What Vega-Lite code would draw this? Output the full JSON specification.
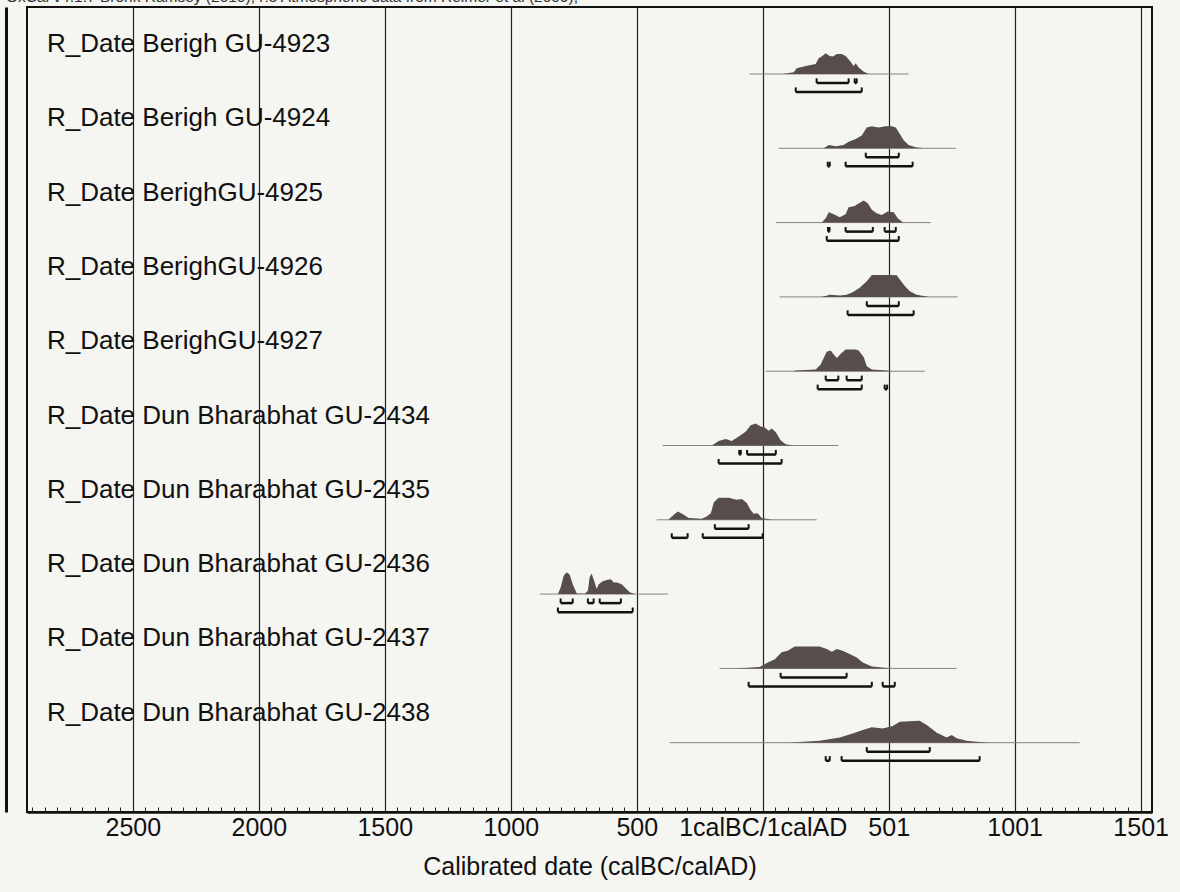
{
  "$schema": "https://vega.github.io/schema/vega-lite/v6.json",
  "autosize": "none",
  "width": 1125,
  "height": 805,
  "padding": {"left": 27, "top": 7, "right": 28, "bottom": 80},
  "background": "#f5f5f1",
  "title": {"text": "OxCal v4.1.7 Bronk Ramsey (2010); r:5 Atmospheric data from Reimer et al (2009);", "anchor": "start", "fontSize": 15.5, "fontWeight": "normal", "font": "Liberation Sans", "color": "#333", "offset": 2},
  "config": {"view": {"stroke": "#111", "strokeWidth": 2}, "font": "Liberation Sans"},
  "data": {"values": [
    {"sample": "R_Date Berigh GU-4923", "kind": "line", "from": -52, "to": 579},
    {"sample": "R_Date Berigh GU-4924", "kind": "line", "from": 63, "to": 766},
    {"sample": "R_Date BerighGU-4925", "kind": "line", "from": 52, "to": 667},
    {"sample": "R_Date BerighGU-4926", "kind": "line", "from": 67, "to": 774},
    {"sample": "R_Date BerighGU-4927", "kind": "line", "from": 12, "to": 643},
    {"sample": "R_Date Dun Bharabhat GU-2434", "kind": "line", "from": -397, "to": 300},
    {"sample": "R_Date Dun Bharabhat GU-2435", "kind": "line", "from": -421, "to": 214},
    {"sample": "R_Date Dun Bharabhat GU-2436", "kind": "line", "from": -885, "to": -377},
    {"sample": "R_Date Dun Bharabhat GU-2437", "kind": "line", "from": -171, "to": 770},
    {"sample": "R_Date Dun Bharabhat GU-2438", "kind": "line", "from": -369, "to": 1258},

    {"sample": "R_Date Berigh GU-4923", "kind": "r68", "from": 214, "to": 341},
    {"sample": "R_Date Berigh GU-4923", "kind": "r68", "from": 365, "to": 373},
    {"sample": "R_Date Berigh GU-4923", "kind": "r95", "from": 131, "to": 393},
    {"sample": "R_Date Berigh GU-4924", "kind": "r68", "from": 409, "to": 540},
    {"sample": "R_Date Berigh GU-4924", "kind": "r95", "from": 258, "to": 266},
    {"sample": "R_Date Berigh GU-4924", "kind": "r95", "from": 329, "to": 595},
    {"sample": "R_Date BerighGU-4925", "kind": "r68", "from": 259, "to": 265},
    {"sample": "R_Date BerighGU-4925", "kind": "r68", "from": 329, "to": 437},
    {"sample": "R_Date BerighGU-4925", "kind": "r68", "from": 484, "to": 528},
    {"sample": "R_Date BerighGU-4925", "kind": "r95", "from": 254, "to": 540},
    {"sample": "R_Date BerighGU-4926", "kind": "r68", "from": 413, "to": 540},
    {"sample": "R_Date BerighGU-4926", "kind": "r95", "from": 337, "to": 599},
    {"sample": "R_Date BerighGU-4927", "kind": "r68", "from": 250, "to": 300},
    {"sample": "R_Date BerighGU-4927", "kind": "r68", "from": 333, "to": 393},
    {"sample": "R_Date BerighGU-4927", "kind": "r95", "from": 218, "to": 393},
    {"sample": "R_Date BerighGU-4927", "kind": "r95", "from": 484, "to": 494},
    {"sample": "R_Date Dun Bharabhat GU-2434", "kind": "r68", "from": -93, "to": -87},
    {"sample": "R_Date Dun Bharabhat GU-2434", "kind": "r68", "from": -62, "to": 52},
    {"sample": "R_Date Dun Bharabhat GU-2434", "kind": "r95", "from": -175, "to": 75},
    {"sample": "R_Date Dun Bharabhat GU-2435", "kind": "r68", "from": -190, "to": -56},
    {"sample": "R_Date Dun Bharabhat GU-2435", "kind": "r95", "from": -361, "to": -298},
    {"sample": "R_Date Dun Bharabhat GU-2435", "kind": "r95", "from": -238, "to": 0},
    {"sample": "R_Date Dun Bharabhat GU-2436", "kind": "r68", "from": -802, "to": -754},
    {"sample": "R_Date Dun Bharabhat GU-2436", "kind": "r68", "from": -694, "to": -671},
    {"sample": "R_Date Dun Bharabhat GU-2436", "kind": "r68", "from": -647, "to": -563},
    {"sample": "R_Date Dun Bharabhat GU-2436", "kind": "r95", "from": -813, "to": -516},
    {"sample": "R_Date Dun Bharabhat GU-2437", "kind": "r68", "from": 71, "to": 333},
    {"sample": "R_Date Dun Bharabhat GU-2437", "kind": "r95", "from": -56, "to": 433},
    {"sample": "R_Date Dun Bharabhat GU-2437", "kind": "r95", "from": 476, "to": 524},
    {"sample": "R_Date Dun Bharabhat GU-2438", "kind": "r68", "from": 413, "to": 663},
    {"sample": "R_Date Dun Bharabhat GU-2438", "kind": "r95", "from": 250, "to": 266},
    {"sample": "R_Date Dun Bharabhat GU-2438", "kind": "r95", "from": 313, "to": 861},

    {"sample": "R_Date Berigh GU-4923", "kind": "d", "year": 80, "p": 0},
    {"sample": "R_Date Berigh GU-4923", "kind": "d", "year": 123, "p": 0.08},
    {"sample": "R_Date Berigh GU-4923", "kind": "d", "year": 135, "p": 0.26},
    {"sample": "R_Date Berigh GU-4923", "kind": "d", "year": 171, "p": 0.36},
    {"sample": "R_Date Berigh GU-4923", "kind": "d", "year": 210, "p": 0.45},
    {"sample": "R_Date Berigh GU-4923", "kind": "d", "year": 222, "p": 0.71},
    {"sample": "R_Date Berigh GU-4923", "kind": "d", "year": 234, "p": 0.79},
    {"sample": "R_Date Berigh GU-4923", "kind": "d", "year": 250, "p": 0.94},
    {"sample": "R_Date Berigh GU-4923", "kind": "d", "year": 266, "p": 0.82},
    {"sample": "R_Date Berigh GU-4923", "kind": "d", "year": 278, "p": 0.79},
    {"sample": "R_Date Berigh GU-4923", "kind": "d", "year": 294, "p": 0.91},
    {"sample": "R_Date Berigh GU-4923", "kind": "d", "year": 313, "p": 0.91},
    {"sample": "R_Date Berigh GU-4923", "kind": "d", "year": 329, "p": 0.82},
    {"sample": "R_Date Berigh GU-4923", "kind": "d", "year": 349, "p": 0.56},
    {"sample": "R_Date Berigh GU-4923", "kind": "d", "year": 361, "p": 0.36},
    {"sample": "R_Date Berigh GU-4923", "kind": "d", "year": 369, "p": 0.49},
    {"sample": "R_Date Berigh GU-4923", "kind": "d", "year": 381, "p": 0.3},
    {"sample": "R_Date Berigh GU-4923", "kind": "d", "year": 401, "p": 0.1},
    {"sample": "R_Date Berigh GU-4923", "kind": "d", "year": 421, "p": 0},

    {"sample": "R_Date Berigh GU-4924", "kind": "d", "year": 242, "p": 0},
    {"sample": "R_Date Berigh GU-4924", "kind": "d", "year": 262, "p": 0.15},
    {"sample": "R_Date Berigh GU-4924", "kind": "d", "year": 290, "p": 0.09},
    {"sample": "R_Date Berigh GU-4924", "kind": "d", "year": 321, "p": 0.15},
    {"sample": "R_Date Berigh GU-4924", "kind": "d", "year": 341, "p": 0.3},
    {"sample": "R_Date Berigh GU-4924", "kind": "d", "year": 369, "p": 0.42},
    {"sample": "R_Date Berigh GU-4924", "kind": "d", "year": 393, "p": 0.58},
    {"sample": "R_Date Berigh GU-4924", "kind": "d", "year": 413, "p": 0.95},
    {"sample": "R_Date Berigh GU-4924", "kind": "d", "year": 433, "p": 1},
    {"sample": "R_Date Berigh GU-4924", "kind": "d", "year": 460, "p": 0.95},
    {"sample": "R_Date Berigh GU-4924", "kind": "d", "year": 488, "p": 1},
    {"sample": "R_Date Berigh GU-4924", "kind": "d", "year": 512, "p": 1},
    {"sample": "R_Date Berigh GU-4924", "kind": "d", "year": 528, "p": 0.95},
    {"sample": "R_Date Berigh GU-4924", "kind": "d", "year": 540, "p": 0.73},
    {"sample": "R_Date Berigh GU-4924", "kind": "d", "year": 560, "p": 0.35},
    {"sample": "R_Date Berigh GU-4924", "kind": "d", "year": 579, "p": 0.15},
    {"sample": "R_Date Berigh GU-4924", "kind": "d", "year": 607, "p": 0.05},
    {"sample": "R_Date Berigh GU-4924", "kind": "d", "year": 639, "p": 0},

    {"sample": "R_Date BerighGU-4925", "kind": "d", "year": 234, "p": 0},
    {"sample": "R_Date BerighGU-4925", "kind": "d", "year": 250, "p": 0.2},
    {"sample": "R_Date BerighGU-4925", "kind": "d", "year": 262, "p": 0.47},
    {"sample": "R_Date BerighGU-4925", "kind": "d", "year": 278, "p": 0.4},
    {"sample": "R_Date BerighGU-4925", "kind": "d", "year": 306, "p": 0.24},
    {"sample": "R_Date BerighGU-4925", "kind": "d", "year": 329, "p": 0.38},
    {"sample": "R_Date BerighGU-4925", "kind": "d", "year": 341, "p": 0.7},
    {"sample": "R_Date BerighGU-4925", "kind": "d", "year": 365, "p": 0.76},
    {"sample": "R_Date BerighGU-4925", "kind": "d", "year": 377, "p": 0.85},
    {"sample": "R_Date BerighGU-4925", "kind": "d", "year": 401, "p": 1},
    {"sample": "R_Date BerighGU-4925", "kind": "d", "year": 417, "p": 0.88},
    {"sample": "R_Date BerighGU-4925", "kind": "d", "year": 433, "p": 0.58},
    {"sample": "R_Date BerighGU-4925", "kind": "d", "year": 452, "p": 0.42},
    {"sample": "R_Date BerighGU-4925", "kind": "d", "year": 472, "p": 0.35},
    {"sample": "R_Date BerighGU-4925", "kind": "d", "year": 484, "p": 0.42},
    {"sample": "R_Date BerighGU-4925", "kind": "d", "year": 496, "p": 0.5},
    {"sample": "R_Date BerighGU-4925", "kind": "d", "year": 520, "p": 0.47},
    {"sample": "R_Date BerighGU-4925", "kind": "d", "year": 536, "p": 0.2},
    {"sample": "R_Date BerighGU-4925", "kind": "d", "year": 556, "p": 0.02},
    {"sample": "R_Date BerighGU-4925", "kind": "d", "year": 570, "p": 0},

    {"sample": "R_Date BerighGU-4926", "kind": "d", "year": 230, "p": 0},
    {"sample": "R_Date BerighGU-4926", "kind": "d", "year": 246, "p": 0.03},
    {"sample": "R_Date BerighGU-4926", "kind": "d", "year": 266, "p": 0.1},
    {"sample": "R_Date BerighGU-4926", "kind": "d", "year": 306, "p": 0.06},
    {"sample": "R_Date BerighGU-4926", "kind": "d", "year": 333, "p": 0.1},
    {"sample": "R_Date BerighGU-4926", "kind": "d", "year": 357, "p": 0.21},
    {"sample": "R_Date BerighGU-4926", "kind": "d", "year": 385, "p": 0.41},
    {"sample": "R_Date BerighGU-4926", "kind": "d", "year": 413, "p": 0.71},
    {"sample": "R_Date BerighGU-4926", "kind": "d", "year": 433, "p": 1},
    {"sample": "R_Date BerighGU-4926", "kind": "d", "year": 457, "p": 1},
    {"sample": "R_Date BerighGU-4926", "kind": "d", "year": 504, "p": 1},
    {"sample": "R_Date BerighGU-4926", "kind": "d", "year": 532, "p": 0.98},
    {"sample": "R_Date BerighGU-4926", "kind": "d", "year": 544, "p": 0.79},
    {"sample": "R_Date BerighGU-4926", "kind": "d", "year": 564, "p": 0.49},
    {"sample": "R_Date BerighGU-4926", "kind": "d", "year": 584, "p": 0.26},
    {"sample": "R_Date BerighGU-4926", "kind": "d", "year": 611, "p": 0.1},
    {"sample": "R_Date BerighGU-4926", "kind": "d", "year": 643, "p": 0.03},
    {"sample": "R_Date BerighGU-4926", "kind": "d", "year": 660, "p": 0},

    {"sample": "R_Date BerighGU-4927", "kind": "d", "year": 120, "p": 0},
    {"sample": "R_Date BerighGU-4927", "kind": "d", "year": 131, "p": 0.03},
    {"sample": "R_Date BerighGU-4927", "kind": "d", "year": 210, "p": 0.08},
    {"sample": "R_Date BerighGU-4927", "kind": "d", "year": 230, "p": 0.3},
    {"sample": "R_Date BerighGU-4927", "kind": "d", "year": 242, "p": 0.6},
    {"sample": "R_Date BerighGU-4927", "kind": "d", "year": 254, "p": 0.88},
    {"sample": "R_Date BerighGU-4927", "kind": "d", "year": 270, "p": 0.94},
    {"sample": "R_Date BerighGU-4927", "kind": "d", "year": 282, "p": 0.76},
    {"sample": "R_Date BerighGU-4927", "kind": "d", "year": 294, "p": 0.6},
    {"sample": "R_Date BerighGU-4927", "kind": "d", "year": 313, "p": 0.83},
    {"sample": "R_Date BerighGU-4927", "kind": "d", "year": 329, "p": 0.99},
    {"sample": "R_Date BerighGU-4927", "kind": "d", "year": 369, "p": 0.99},
    {"sample": "R_Date BerighGU-4927", "kind": "d", "year": 381, "p": 0.94},
    {"sample": "R_Date BerighGU-4927", "kind": "d", "year": 401, "p": 0.64},
    {"sample": "R_Date BerighGU-4927", "kind": "d", "year": 413, "p": 0.23},
    {"sample": "R_Date BerighGU-4927", "kind": "d", "year": 433, "p": 0.08},
    {"sample": "R_Date BerighGU-4927", "kind": "d", "year": 492, "p": 0.03},
    {"sample": "R_Date BerighGU-4927", "kind": "d", "year": 520, "p": 0},

    {"sample": "R_Date Dun Bharabhat GU-2434", "kind": "d", "year": -202, "p": 0},
    {"sample": "R_Date Dun Bharabhat GU-2434", "kind": "d", "year": -175, "p": 0.21},
    {"sample": "R_Date Dun Bharabhat GU-2434", "kind": "d", "year": -147, "p": 0.3},
    {"sample": "R_Date Dun Bharabhat GU-2434", "kind": "d", "year": -123, "p": 0.21},
    {"sample": "R_Date Dun Bharabhat GU-2434", "kind": "d", "year": -95, "p": 0.41},
    {"sample": "R_Date Dun Bharabhat GU-2434", "kind": "d", "year": -67, "p": 0.64},
    {"sample": "R_Date Dun Bharabhat GU-2434", "kind": "d", "year": -48, "p": 0.92},
    {"sample": "R_Date Dun Bharabhat GU-2434", "kind": "d", "year": -28, "p": 1},
    {"sample": "R_Date Dun Bharabhat GU-2434", "kind": "d", "year": -8, "p": 0.86},
    {"sample": "R_Date Dun Bharabhat GU-2434", "kind": "d", "year": 8, "p": 0.82},
    {"sample": "R_Date Dun Bharabhat GU-2434", "kind": "d", "year": 24, "p": 0.67},
    {"sample": "R_Date Dun Bharabhat GU-2434", "kind": "d", "year": 36, "p": 0.77},
    {"sample": "R_Date Dun Bharabhat GU-2434", "kind": "d", "year": 52, "p": 0.6},
    {"sample": "R_Date Dun Bharabhat GU-2434", "kind": "d", "year": 71, "p": 0.24},
    {"sample": "R_Date Dun Bharabhat GU-2434", "kind": "d", "year": 91, "p": 0.06},
    {"sample": "R_Date Dun Bharabhat GU-2434", "kind": "d", "year": 123, "p": 0},

    {"sample": "R_Date Dun Bharabhat GU-2435", "kind": "d", "year": -375, "p": 0},
    {"sample": "R_Date Dun Bharabhat GU-2435", "kind": "d", "year": -353, "p": 0.23},
    {"sample": "R_Date Dun Bharabhat GU-2435", "kind": "d", "year": -337, "p": 0.38},
    {"sample": "R_Date Dun Bharabhat GU-2435", "kind": "d", "year": -313, "p": 0.23},
    {"sample": "R_Date Dun Bharabhat GU-2435", "kind": "d", "year": -294, "p": 0.08},
    {"sample": "R_Date Dun Bharabhat GU-2435", "kind": "d", "year": -242, "p": 0.05},
    {"sample": "R_Date Dun Bharabhat GU-2435", "kind": "d", "year": -222, "p": 0.15},
    {"sample": "R_Date Dun Bharabhat GU-2435", "kind": "d", "year": -206, "p": 0.3},
    {"sample": "R_Date Dun Bharabhat GU-2435", "kind": "d", "year": -194, "p": 0.8},
    {"sample": "R_Date Dun Bharabhat GU-2435", "kind": "d", "year": -175, "p": 1},
    {"sample": "R_Date Dun Bharabhat GU-2435", "kind": "d", "year": -135, "p": 1},
    {"sample": "R_Date Dun Bharabhat GU-2435", "kind": "d", "year": -103, "p": 0.91},
    {"sample": "R_Date Dun Bharabhat GU-2435", "kind": "d", "year": -83, "p": 0.95},
    {"sample": "R_Date Dun Bharabhat GU-2435", "kind": "d", "year": -63, "p": 0.76},
    {"sample": "R_Date Dun Bharabhat GU-2435", "kind": "d", "year": -48, "p": 0.45},
    {"sample": "R_Date Dun Bharabhat GU-2435", "kind": "d", "year": -36, "p": 0.27},
    {"sample": "R_Date Dun Bharabhat GU-2435", "kind": "d", "year": -20, "p": 0.3},
    {"sample": "R_Date Dun Bharabhat GU-2435", "kind": "d", "year": -4, "p": 0.08},
    {"sample": "R_Date Dun Bharabhat GU-2435", "kind": "d", "year": 24, "p": 0.03},
    {"sample": "R_Date Dun Bharabhat GU-2435", "kind": "d", "year": 40, "p": 0},

    {"sample": "R_Date Dun Bharabhat GU-2436", "kind": "d", "year": -813, "p": 0},
    {"sample": "R_Date Dun Bharabhat GU-2436", "kind": "d", "year": -802, "p": 0.3},
    {"sample": "R_Date Dun Bharabhat GU-2436", "kind": "d", "year": -790, "p": 0.83},
    {"sample": "R_Date Dun Bharabhat GU-2436", "kind": "d", "year": -778, "p": 0.99},
    {"sample": "R_Date Dun Bharabhat GU-2436", "kind": "d", "year": -766, "p": 0.88},
    {"sample": "R_Date Dun Bharabhat GU-2436", "kind": "d", "year": -754, "p": 0.45},
    {"sample": "R_Date Dun Bharabhat GU-2436", "kind": "d", "year": -738, "p": 0.03},
    {"sample": "R_Date Dun Bharabhat GU-2436", "kind": "d", "year": -706, "p": 0.01},
    {"sample": "R_Date Dun Bharabhat GU-2436", "kind": "d", "year": -694, "p": 0.15},
    {"sample": "R_Date Dun Bharabhat GU-2436", "kind": "d", "year": -687, "p": 0.76},
    {"sample": "R_Date Dun Bharabhat GU-2436", "kind": "d", "year": -679, "p": 0.94},
    {"sample": "R_Date Dun Bharabhat GU-2436", "kind": "d", "year": -667, "p": 0.53},
    {"sample": "R_Date Dun Bharabhat GU-2436", "kind": "d", "year": -659, "p": 0.23},
    {"sample": "R_Date Dun Bharabhat GU-2436", "kind": "d", "year": -651, "p": 0.45},
    {"sample": "R_Date Dun Bharabhat GU-2436", "kind": "d", "year": -635, "p": 0.58},
    {"sample": "R_Date Dun Bharabhat GU-2436", "kind": "d", "year": -619, "p": 0.64},
    {"sample": "R_Date Dun Bharabhat GU-2436", "kind": "d", "year": -603, "p": 0.68},
    {"sample": "R_Date Dun Bharabhat GU-2436", "kind": "d", "year": -591, "p": 0.53},
    {"sample": "R_Date Dun Bharabhat GU-2436", "kind": "d", "year": -579, "p": 0.53},
    {"sample": "R_Date Dun Bharabhat GU-2436", "kind": "d", "year": -560, "p": 0.45},
    {"sample": "R_Date Dun Bharabhat GU-2436", "kind": "d", "year": -544, "p": 0.27},
    {"sample": "R_Date Dun Bharabhat GU-2436", "kind": "d", "year": -528, "p": 0.08},
    {"sample": "R_Date Dun Bharabhat GU-2436", "kind": "d", "year": -508, "p": 0},

    {"sample": "R_Date Dun Bharabhat GU-2437", "kind": "d", "year": -120, "p": 0},
    {"sample": "R_Date Dun Bharabhat GU-2437", "kind": "d", "year": -91, "p": 0.01},
    {"sample": "R_Date Dun Bharabhat GU-2437", "kind": "d", "year": -12, "p": 0.06},
    {"sample": "R_Date Dun Bharabhat GU-2437", "kind": "d", "year": 20, "p": 0.27},
    {"sample": "R_Date Dun Bharabhat GU-2437", "kind": "d", "year": 48, "p": 0.42},
    {"sample": "R_Date Dun Bharabhat GU-2437", "kind": "d", "year": 75, "p": 0.73},
    {"sample": "R_Date Dun Bharabhat GU-2437", "kind": "d", "year": 99, "p": 0.8},
    {"sample": "R_Date Dun Bharabhat GU-2437", "kind": "d", "year": 127, "p": 1},
    {"sample": "R_Date Dun Bharabhat GU-2437", "kind": "d", "year": 226, "p": 1},
    {"sample": "R_Date Dun Bharabhat GU-2437", "kind": "d", "year": 254, "p": 0.88},
    {"sample": "R_Date Dun Bharabhat GU-2437", "kind": "d", "year": 274, "p": 0.76},
    {"sample": "R_Date Dun Bharabhat GU-2437", "kind": "d", "year": 294, "p": 0.88},
    {"sample": "R_Date Dun Bharabhat GU-2437", "kind": "d", "year": 317, "p": 0.8},
    {"sample": "R_Date Dun Bharabhat GU-2437", "kind": "d", "year": 345, "p": 0.65},
    {"sample": "R_Date Dun Bharabhat GU-2437", "kind": "d", "year": 373, "p": 0.5},
    {"sample": "R_Date Dun Bharabhat GU-2437", "kind": "d", "year": 397, "p": 0.27},
    {"sample": "R_Date Dun Bharabhat GU-2437", "kind": "d", "year": 433, "p": 0.09},
    {"sample": "R_Date Dun Bharabhat GU-2437", "kind": "d", "year": 464, "p": 0.05},
    {"sample": "R_Date Dun Bharabhat GU-2437", "kind": "d", "year": 510, "p": 0},

    {"sample": "R_Date Dun Bharabhat GU-2438", "kind": "d", "year": 100, "p": 0},
    {"sample": "R_Date Dun Bharabhat GU-2438", "kind": "d", "year": 226, "p": 0.09},
    {"sample": "R_Date Dun Bharabhat GU-2438", "kind": "d", "year": 306, "p": 0.24},
    {"sample": "R_Date Dun Bharabhat GU-2438", "kind": "d", "year": 357, "p": 0.42},
    {"sample": "R_Date Dun Bharabhat GU-2438", "kind": "d", "year": 397, "p": 0.58},
    {"sample": "R_Date Dun Bharabhat GU-2438", "kind": "d", "year": 433, "p": 0.7},
    {"sample": "R_Date Dun Bharabhat GU-2438", "kind": "d", "year": 476, "p": 0.65},
    {"sample": "R_Date Dun Bharabhat GU-2438", "kind": "d", "year": 516, "p": 0.76},
    {"sample": "R_Date Dun Bharabhat GU-2438", "kind": "d", "year": 544, "p": 0.95},
    {"sample": "R_Date Dun Bharabhat GU-2438", "kind": "d", "year": 623, "p": 1},
    {"sample": "R_Date Dun Bharabhat GU-2438", "kind": "d", "year": 651, "p": 0.8},
    {"sample": "R_Date Dun Bharabhat GU-2438", "kind": "d", "year": 691, "p": 0.45},
    {"sample": "R_Date Dun Bharabhat GU-2438", "kind": "d", "year": 730, "p": 0.24},
    {"sample": "R_Date Dun Bharabhat GU-2438", "kind": "d", "year": 750, "p": 0.35},
    {"sample": "R_Date Dun Bharabhat GU-2438", "kind": "d", "year": 770, "p": 0.2},
    {"sample": "R_Date Dun Bharabhat GU-2438", "kind": "d", "year": 809, "p": 0.09},
    {"sample": "R_Date Dun Bharabhat GU-2438", "kind": "d", "year": 861, "p": 0.03},
    {"sample": "R_Date Dun Bharabhat GU-2438", "kind": "d", "year": 900, "p": 0}
  ]},
  "layer": [
    {
      "transform": [{"filter": "datum.kind === 'line'"}],
      "mark": {"type": "rule", "opacity": 0},
      "encoding": {
        "x": {"field": "from", "type": "quantitative", "scale": {"domain": [-2920, 1545], "nice": false, "zero": false},
          "axis": {"orient": "bottom", "tickCount": 400, "values": [-2900,-2850,-2800,-2750,-2700,-2650,-2600,-2550,-2500,-2450,-2400,-2350,-2300,-2250,-2200,-2150,-2100,-2050,-2000,-1950,-1900,-1850,-1800,-1750,-1700,-1650,-1600,-1550,-1500,-1450,-1400,-1350,-1300,-1250,-1200,-1150,-1100,-1050,-1000,-950,-900,-850,-800,-750,-700,-650,-600,-550,-500,-450,-400,-350,-300,-250,-200,-150,-100,-50,0,50,100,150,200,250,300,350,400,450,500,550,600,650,700,750,800,850,900,950,1000,1050,1100,1150,1200,1250,1300,1350,1400,1450,1500],
            "labelExpr": "datum.value % 500 !== 0 ? '' : (datum.value === 0 ? '1calBC/1calAD' : (datum.value < 0 ? '' + (-datum.value) : '' + (datum.value + 1)))",
            "labelFlush": false, "labelOverlap": false, "labelFontSize": 25, "labelColor": "#111", "labelPadding": 8, "labelFont": "Liberation Sans",
            "grid": true, "gridColor": "#222", "gridWidth": 1.2, "gridOpacity": {"condition": {"test": "datum.value % 500 === 0", "value": 1}, "value": 0},
            "tickSize": -5, "tickColor": "#222", "tickWidth": 1,
            "domain": true, "domainColor": "#111", "domainWidth": 2.5,
            "title": "Calibrated date (calBC/calAD)", "titleFontSize": 25, "titleFontWeight": "normal", "titleColor": "#111", "titlePadding": 14, "titleFont": "Liberation Sans"}},
        "y": {"datum": 0, "scale": {"domain": [-36.6, 0], "nice": false, "zero": false},
          "axis": {"orient": "left", "offset": 21, "domain": true, "domainColor": "#111", "domainWidth": 3, "labels": false, "ticks": false, "grid": false, "title": null}}
      }
    },
    {
      "transform": [{"filter": "datum.sample === 'R_Date Berigh GU-4923'"}],
      "layer": [
        {"transform": [{"filter": "datum.kind === 'line'"}], "mark": {"type": "rule", "color": "#8a8282", "strokeWidth": 1}, "encoding": {"x": {"field": "from", "type": "quantitative"}, "x2": {"field": "to"}, "y": {"datum": 0, "axis": null}}},
        {"transform": [{"filter": "datum.kind === 'd'"}], "mark": {"type": "area", "color": "#574d4d"}, "encoding": {"x": {"field": "year", "type": "quantitative"}, "y": {"field": "p", "type": "quantitative", "scale": {"domain": [-33.545, 3.045], "nice": false, "zero": false}, "axis": null}}},
        {"transform": [{"filter": "datum.kind === 'r68'"}], "mark": {"type": "rule", "color": "#111", "strokeWidth": 2.5}, "encoding": {"x": {"field": "from", "type": "quantitative"}, "x2": {"field": "to"}, "y": {"datum": -0.41, "axis": null}}},
        {"transform": [{"filter": "datum.kind === 'r68'"}, {"fold": ["from", "to"], "as": ["end", "pos"]}], "mark": {"type": "rule", "color": "#111", "strokeWidth": 2}, "encoding": {"x": {"field": "pos", "type": "quantitative"}, "y": {"datum": -0.41, "axis": null}, "y2": {"datum": -0.2}}},
        {"transform": [{"filter": "datum.kind === 'r95'"}], "mark": {"type": "rule", "color": "#111", "strokeWidth": 2.5}, "encoding": {"x": {"field": "from", "type": "quantitative"}, "x2": {"field": "to"}, "y": {"datum": -0.82, "axis": null}}},
        {"transform": [{"filter": "datum.kind === 'r95'"}, {"fold": ["from", "to"], "as": ["end", "pos"]}], "mark": {"type": "rule", "color": "#111", "strokeWidth": 2}, "encoding": {"x": {"field": "pos", "type": "quantitative"}, "y": {"datum": -0.82, "axis": null}, "y2": {"datum": -0.61}}},
        {"transform": [{"filter": "datum.kind === 'line'"}], "mark": {"type": "text", "align": "left", "baseline": "middle", "fontSize": 26, "font": "Liberation Sans", "color": "#111"}, "encoding": {"x": {"datum": -2841}, "y": {"datum": 1.36, "axis": null}, "text": {"field": "sample"}}}
      ]
    },
    {
      "transform": [{"filter": "datum.sample === 'R_Date Berigh GU-4924'"}],
      "layer": [
        {"transform": [{"filter": "datum.kind === 'line'"}], "mark": {"type": "rule", "color": "#8a8282", "strokeWidth": 1}, "encoding": {"x": {"field": "from", "type": "quantitative"}, "x2": {"field": "to"}, "y": {"datum": 0, "axis": null}}},
        {"transform": [{"filter": "datum.kind === 'd'"}], "mark": {"type": "area", "color": "#574d4d"}, "encoding": {"x": {"field": "year", "type": "quantitative"}, "y": {"field": "p", "type": "quantitative", "scale": {"domain": [-30.168, 6.423], "nice": false, "zero": false}, "axis": null}}},
        {"transform": [{"filter": "datum.kind === 'r68'"}], "mark": {"type": "rule", "color": "#111", "strokeWidth": 2.5}, "encoding": {"x": {"field": "from", "type": "quantitative"}, "x2": {"field": "to"}, "y": {"datum": -0.41, "axis": null}}},
        {"transform": [{"filter": "datum.kind === 'r68'"}, {"fold": ["from", "to"], "as": ["end", "pos"]}], "mark": {"type": "rule", "color": "#111", "strokeWidth": 2}, "encoding": {"x": {"field": "pos", "type": "quantitative"}, "y": {"datum": -0.41, "axis": null}, "y2": {"datum": -0.2}}},
        {"transform": [{"filter": "datum.kind === 'r95'"}], "mark": {"type": "rule", "color": "#111", "strokeWidth": 2.5}, "encoding": {"x": {"field": "from", "type": "quantitative"}, "x2": {"field": "to"}, "y": {"datum": -0.82, "axis": null}}},
        {"transform": [{"filter": "datum.kind === 'r95'"}, {"fold": ["from", "to"], "as": ["end", "pos"]}], "mark": {"type": "rule", "color": "#111", "strokeWidth": 2}, "encoding": {"x": {"field": "pos", "type": "quantitative"}, "y": {"datum": -0.82, "axis": null}, "y2": {"datum": -0.61}}},
        {"transform": [{"filter": "datum.kind === 'line'"}], "mark": {"type": "text", "align": "left", "baseline": "middle", "fontSize": 26, "font": "Liberation Sans", "color": "#111"}, "encoding": {"x": {"datum": -2841}, "y": {"datum": 1.36, "axis": null}, "text": {"field": "sample"}}}
      ]
    },
    {
      "transform": [{"filter": "datum.sample === 'R_Date BerighGU-4925'"}],
      "layer": [
        {"transform": [{"filter": "datum.kind === 'line'"}], "mark": {"type": "rule", "color": "#8a8282", "strokeWidth": 1}, "encoding": {"x": {"field": "from", "type": "quantitative"}, "x2": {"field": "to"}, "y": {"datum": 0, "axis": null}}},
        {"transform": [{"filter": "datum.kind === 'd'"}], "mark": {"type": "area", "color": "#574d4d"}, "encoding": {"x": {"field": "year", "type": "quantitative"}, "y": {"field": "p", "type": "quantitative", "scale": {"domain": [-26.791, 9.8], "nice": false, "zero": false}, "axis": null}}},
        {"transform": [{"filter": "datum.kind === 'r68'"}], "mark": {"type": "rule", "color": "#111", "strokeWidth": 2.5}, "encoding": {"x": {"field": "from", "type": "quantitative"}, "x2": {"field": "to"}, "y": {"datum": -0.41, "axis": null}}},
        {"transform": [{"filter": "datum.kind === 'r68'"}, {"fold": ["from", "to"], "as": ["end", "pos"]}], "mark": {"type": "rule", "color": "#111", "strokeWidth": 2}, "encoding": {"x": {"field": "pos", "type": "quantitative"}, "y": {"datum": -0.41, "axis": null}, "y2": {"datum": -0.2}}},
        {"transform": [{"filter": "datum.kind === 'r95'"}], "mark": {"type": "rule", "color": "#111", "strokeWidth": 2.5}, "encoding": {"x": {"field": "from", "type": "quantitative"}, "x2": {"field": "to"}, "y": {"datum": -0.82, "axis": null}}},
        {"transform": [{"filter": "datum.kind === 'r95'"}, {"fold": ["from", "to"], "as": ["end", "pos"]}], "mark": {"type": "rule", "color": "#111", "strokeWidth": 2}, "encoding": {"x": {"field": "pos", "type": "quantitative"}, "y": {"datum": -0.82, "axis": null}, "y2": {"datum": -0.61}}},
        {"transform": [{"filter": "datum.kind === 'line'"}], "mark": {"type": "text", "align": "left", "baseline": "middle", "fontSize": 26, "font": "Liberation Sans", "color": "#111"}, "encoding": {"x": {"datum": -2841}, "y": {"datum": 1.36, "axis": null}, "text": {"field": "sample"}}}
      ]
    },
    {
      "transform": [{"filter": "datum.sample === 'R_Date BerighGU-4926'"}],
      "layer": [
        {"transform": [{"filter": "datum.kind === 'line'"}], "mark": {"type": "rule", "color": "#8a8282", "strokeWidth": 1}, "encoding": {"x": {"field": "from", "type": "quantitative"}, "x2": {"field": "to"}, "y": {"datum": 0, "axis": null}}},
        {"transform": [{"filter": "datum.kind === 'd'"}], "mark": {"type": "area", "color": "#574d4d"}, "encoding": {"x": {"field": "year", "type": "quantitative"}, "y": {"field": "p", "type": "quantitative", "scale": {"domain": [-23.414, 13.177], "nice": false, "zero": false}, "axis": null}}},
        {"transform": [{"filter": "datum.kind === 'r68'"}], "mark": {"type": "rule", "color": "#111", "strokeWidth": 2.5}, "encoding": {"x": {"field": "from", "type": "quantitative"}, "x2": {"field": "to"}, "y": {"datum": -0.41, "axis": null}}},
        {"transform": [{"filter": "datum.kind === 'r68'"}, {"fold": ["from", "to"], "as": ["end", "pos"]}], "mark": {"type": "rule", "color": "#111", "strokeWidth": 2}, "encoding": {"x": {"field": "pos", "type": "quantitative"}, "y": {"datum": -0.41, "axis": null}, "y2": {"datum": -0.2}}},
        {"transform": [{"filter": "datum.kind === 'r95'"}], "mark": {"type": "rule", "color": "#111", "strokeWidth": 2.5}, "encoding": {"x": {"field": "from", "type": "quantitative"}, "x2": {"field": "to"}, "y": {"datum": -0.82, "axis": null}}},
        {"transform": [{"filter": "datum.kind === 'r95'"}, {"fold": ["from", "to"], "as": ["end", "pos"]}], "mark": {"type": "rule", "color": "#111", "strokeWidth": 2}, "encoding": {"x": {"field": "pos", "type": "quantitative"}, "y": {"datum": -0.82, "axis": null}, "y2": {"datum": -0.61}}},
        {"transform": [{"filter": "datum.kind === 'line'"}], "mark": {"type": "text", "align": "left", "baseline": "middle", "fontSize": 26, "font": "Liberation Sans", "color": "#111"}, "encoding": {"x": {"datum": -2841}, "y": {"datum": 1.36, "axis": null}, "text": {"field": "sample"}}}
      ]
    },
    {
      "transform": [{"filter": "datum.sample === 'R_Date BerighGU-4927'"}],
      "layer": [
        {"transform": [{"filter": "datum.kind === 'line'"}], "mark": {"type": "rule", "color": "#8a8282", "strokeWidth": 1}, "encoding": {"x": {"field": "from", "type": "quantitative"}, "x2": {"field": "to"}, "y": {"datum": 0, "axis": null}}},
        {"transform": [{"filter": "datum.kind === 'd'"}], "mark": {"type": "area", "color": "#574d4d"}, "encoding": {"x": {"field": "year", "type": "quantitative"}, "y": {"field": "p", "type": "quantitative", "scale": {"domain": [-20.036, 16.555], "nice": false, "zero": false}, "axis": null}}},
        {"transform": [{"filter": "datum.kind === 'r68'"}], "mark": {"type": "rule", "color": "#111", "strokeWidth": 2.5}, "encoding": {"x": {"field": "from", "type": "quantitative"}, "x2": {"field": "to"}, "y": {"datum": -0.41, "axis": null}}},
        {"transform": [{"filter": "datum.kind === 'r68'"}, {"fold": ["from", "to"], "as": ["end", "pos"]}], "mark": {"type": "rule", "color": "#111", "strokeWidth": 2}, "encoding": {"x": {"field": "pos", "type": "quantitative"}, "y": {"datum": -0.41, "axis": null}, "y2": {"datum": -0.2}}},
        {"transform": [{"filter": "datum.kind === 'r95'"}], "mark": {"type": "rule", "color": "#111", "strokeWidth": 2.5}, "encoding": {"x": {"field": "from", "type": "quantitative"}, "x2": {"field": "to"}, "y": {"datum": -0.82, "axis": null}}},
        {"transform": [{"filter": "datum.kind === 'r95'"}, {"fold": ["from", "to"], "as": ["end", "pos"]}], "mark": {"type": "rule", "color": "#111", "strokeWidth": 2}, "encoding": {"x": {"field": "pos", "type": "quantitative"}, "y": {"datum": -0.82, "axis": null}, "y2": {"datum": -0.61}}},
        {"transform": [{"filter": "datum.kind === 'line'"}], "mark": {"type": "text", "align": "left", "baseline": "middle", "fontSize": 26, "font": "Liberation Sans", "color": "#111"}, "encoding": {"x": {"datum": -2841}, "y": {"datum": 1.36, "axis": null}, "text": {"field": "sample"}}}
      ]
    },
    {
      "transform": [{"filter": "datum.sample === 'R_Date Dun Bharabhat GU-2434'"}],
      "layer": [
        {"transform": [{"filter": "datum.kind === 'line'"}], "mark": {"type": "rule", "color": "#8a8282", "strokeWidth": 1}, "encoding": {"x": {"field": "from", "type": "quantitative"}, "x2": {"field": "to"}, "y": {"datum": 0, "axis": null}}},
        {"transform": [{"filter": "datum.kind === 'd'"}], "mark": {"type": "area", "color": "#574d4d"}, "encoding": {"x": {"field": "year", "type": "quantitative"}, "y": {"field": "p", "type": "quantitative", "scale": {"domain": [-16.659, 19.932], "nice": false, "zero": false}, "axis": null}}},
        {"transform": [{"filter": "datum.kind === 'r68'"}], "mark": {"type": "rule", "color": "#111", "strokeWidth": 2.5}, "encoding": {"x": {"field": "from", "type": "quantitative"}, "x2": {"field": "to"}, "y": {"datum": -0.41, "axis": null}}},
        {"transform": [{"filter": "datum.kind === 'r68'"}, {"fold": ["from", "to"], "as": ["end", "pos"]}], "mark": {"type": "rule", "color": "#111", "strokeWidth": 2}, "encoding": {"x": {"field": "pos", "type": "quantitative"}, "y": {"datum": -0.41, "axis": null}, "y2": {"datum": -0.2}}},
        {"transform": [{"filter": "datum.kind === 'r95'"}], "mark": {"type": "rule", "color": "#111", "strokeWidth": 2.5}, "encoding": {"x": {"field": "from", "type": "quantitative"}, "x2": {"field": "to"}, "y": {"datum": -0.82, "axis": null}}},
        {"transform": [{"filter": "datum.kind === 'r95'"}, {"fold": ["from", "to"], "as": ["end", "pos"]}], "mark": {"type": "rule", "color": "#111", "strokeWidth": 2}, "encoding": {"x": {"field": "pos", "type": "quantitative"}, "y": {"datum": -0.82, "axis": null}, "y2": {"datum": -0.61}}},
        {"transform": [{"filter": "datum.kind === 'line'"}], "mark": {"type": "text", "align": "left", "baseline": "middle", "fontSize": 26, "font": "Liberation Sans", "color": "#111"}, "encoding": {"x": {"datum": -2841}, "y": {"datum": 1.36, "axis": null}, "text": {"field": "sample"}}}
      ]
    },
    {
      "transform": [{"filter": "datum.sample === 'R_Date Dun Bharabhat GU-2435'"}],
      "layer": [
        {"transform": [{"filter": "datum.kind === 'line'"}], "mark": {"type": "rule", "color": "#8a8282", "strokeWidth": 1}, "encoding": {"x": {"field": "from", "type": "quantitative"}, "x2": {"field": "to"}, "y": {"datum": 0, "axis": null}}},
        {"transform": [{"filter": "datum.kind === 'd'"}], "mark": {"type": "area", "color": "#574d4d"}, "encoding": {"x": {"field": "year", "type": "quantitative"}, "y": {"field": "p", "type": "quantitative", "scale": {"domain": [-13.282, 23.309], "nice": false, "zero": false}, "axis": null}}},
        {"transform": [{"filter": "datum.kind === 'r68'"}], "mark": {"type": "rule", "color": "#111", "strokeWidth": 2.5}, "encoding": {"x": {"field": "from", "type": "quantitative"}, "x2": {"field": "to"}, "y": {"datum": -0.41, "axis": null}}},
        {"transform": [{"filter": "datum.kind === 'r68'"}, {"fold": ["from", "to"], "as": ["end", "pos"]}], "mark": {"type": "rule", "color": "#111", "strokeWidth": 2}, "encoding": {"x": {"field": "pos", "type": "quantitative"}, "y": {"datum": -0.41, "axis": null}, "y2": {"datum": -0.2}}},
        {"transform": [{"filter": "datum.kind === 'r95'"}], "mark": {"type": "rule", "color": "#111", "strokeWidth": 2.5}, "encoding": {"x": {"field": "from", "type": "quantitative"}, "x2": {"field": "to"}, "y": {"datum": -0.82, "axis": null}}},
        {"transform": [{"filter": "datum.kind === 'r95'"}, {"fold": ["from", "to"], "as": ["end", "pos"]}], "mark": {"type": "rule", "color": "#111", "strokeWidth": 2}, "encoding": {"x": {"field": "pos", "type": "quantitative"}, "y": {"datum": -0.82, "axis": null}, "y2": {"datum": -0.61}}},
        {"transform": [{"filter": "datum.kind === 'line'"}], "mark": {"type": "text", "align": "left", "baseline": "middle", "fontSize": 26, "font": "Liberation Sans", "color": "#111"}, "encoding": {"x": {"datum": -2841}, "y": {"datum": 1.36, "axis": null}, "text": {"field": "sample"}}}
      ]
    },
    {
      "transform": [{"filter": "datum.sample === 'R_Date Dun Bharabhat GU-2436'"}],
      "layer": [
        {"transform": [{"filter": "datum.kind === 'line'"}], "mark": {"type": "rule", "color": "#8a8282", "strokeWidth": 1}, "encoding": {"x": {"field": "from", "type": "quantitative"}, "x2": {"field": "to"}, "y": {"datum": 0, "axis": null}}},
        {"transform": [{"filter": "datum.kind === 'd'"}], "mark": {"type": "area", "color": "#574d4d"}, "encoding": {"x": {"field": "year", "type": "quantitative"}, "y": {"field": "p", "type": "quantitative", "scale": {"domain": [-9.905, 26.686], "nice": false, "zero": false}, "axis": null}}},
        {"transform": [{"filter": "datum.kind === 'r68'"}], "mark": {"type": "rule", "color": "#111", "strokeWidth": 2.5}, "encoding": {"x": {"field": "from", "type": "quantitative"}, "x2": {"field": "to"}, "y": {"datum": -0.41, "axis": null}}},
        {"transform": [{"filter": "datum.kind === 'r68'"}, {"fold": ["from", "to"], "as": ["end", "pos"]}], "mark": {"type": "rule", "color": "#111", "strokeWidth": 2}, "encoding": {"x": {"field": "pos", "type": "quantitative"}, "y": {"datum": -0.41, "axis": null}, "y2": {"datum": -0.2}}},
        {"transform": [{"filter": "datum.kind === 'r95'"}], "mark": {"type": "rule", "color": "#111", "strokeWidth": 2.5}, "encoding": {"x": {"field": "from", "type": "quantitative"}, "x2": {"field": "to"}, "y": {"datum": -0.82, "axis": null}}},
        {"transform": [{"filter": "datum.kind === 'r95'"}, {"fold": ["from", "to"], "as": ["end", "pos"]}], "mark": {"type": "rule", "color": "#111", "strokeWidth": 2}, "encoding": {"x": {"field": "pos", "type": "quantitative"}, "y": {"datum": -0.82, "axis": null}, "y2": {"datum": -0.61}}},
        {"transform": [{"filter": "datum.kind === 'line'"}], "mark": {"type": "text", "align": "left", "baseline": "middle", "fontSize": 26, "font": "Liberation Sans", "color": "#111"}, "encoding": {"x": {"datum": -2841}, "y": {"datum": 1.36, "axis": null}, "text": {"field": "sample"}}}
      ]
    },
    {
      "transform": [{"filter": "datum.sample === 'R_Date Dun Bharabhat GU-2437'"}],
      "layer": [
        {"transform": [{"filter": "datum.kind === 'line'"}], "mark": {"type": "rule", "color": "#8a8282", "strokeWidth": 1}, "encoding": {"x": {"field": "from", "type": "quantitative"}, "x2": {"field": "to"}, "y": {"datum": 0, "axis": null}}},
        {"transform": [{"filter": "datum.kind === 'd'"}], "mark": {"type": "area", "color": "#574d4d"}, "encoding": {"x": {"field": "year", "type": "quantitative"}, "y": {"field": "p", "type": "quantitative", "scale": {"domain": [-6.527, 30.064], "nice": false, "zero": false}, "axis": null}}},
        {"transform": [{"filter": "datum.kind === 'r68'"}], "mark": {"type": "rule", "color": "#111", "strokeWidth": 2.5}, "encoding": {"x": {"field": "from", "type": "quantitative"}, "x2": {"field": "to"}, "y": {"datum": -0.41, "axis": null}}},
        {"transform": [{"filter": "datum.kind === 'r68'"}, {"fold": ["from", "to"], "as": ["end", "pos"]}], "mark": {"type": "rule", "color": "#111", "strokeWidth": 2}, "encoding": {"x": {"field": "pos", "type": "quantitative"}, "y": {"datum": -0.41, "axis": null}, "y2": {"datum": -0.2}}},
        {"transform": [{"filter": "datum.kind === 'r95'"}], "mark": {"type": "rule", "color": "#111", "strokeWidth": 2.5}, "encoding": {"x": {"field": "from", "type": "quantitative"}, "x2": {"field": "to"}, "y": {"datum": -0.82, "axis": null}}},
        {"transform": [{"filter": "datum.kind === 'r95'"}, {"fold": ["from", "to"], "as": ["end", "pos"]}], "mark": {"type": "rule", "color": "#111", "strokeWidth": 2}, "encoding": {"x": {"field": "pos", "type": "quantitative"}, "y": {"datum": -0.82, "axis": null}, "y2": {"datum": -0.61}}},
        {"transform": [{"filter": "datum.kind === 'line'"}], "mark": {"type": "text", "align": "left", "baseline": "middle", "fontSize": 26, "font": "Liberation Sans", "color": "#111"}, "encoding": {"x": {"datum": -2841}, "y": {"datum": 1.36, "axis": null}, "text": {"field": "sample"}}}
      ]
    },
    {
      "transform": [{"filter": "datum.sample === 'R_Date Dun Bharabhat GU-2438'"}],
      "layer": [
        {"transform": [{"filter": "datum.kind === 'line'"}], "mark": {"type": "rule", "color": "#8a8282", "strokeWidth": 1}, "encoding": {"x": {"field": "from", "type": "quantitative"}, "x2": {"field": "to"}, "y": {"datum": 0, "axis": null}}},
        {"transform": [{"filter": "datum.kind === 'd'"}], "mark": {"type": "area", "color": "#574d4d"}, "encoding": {"x": {"field": "year", "type": "quantitative"}, "y": {"field": "p", "type": "quantitative", "scale": {"domain": [-3.15, 33.441], "nice": false, "zero": false}, "axis": null}}},
        {"transform": [{"filter": "datum.kind === 'r68'"}], "mark": {"type": "rule", "color": "#111", "strokeWidth": 2.5}, "encoding": {"x": {"field": "from", "type": "quantitative"}, "x2": {"field": "to"}, "y": {"datum": -0.41, "axis": null}}},
        {"transform": [{"filter": "datum.kind === 'r68'"}, {"fold": ["from", "to"], "as": ["end", "pos"]}], "mark": {"type": "rule", "color": "#111", "strokeWidth": 2}, "encoding": {"x": {"field": "pos", "type": "quantitative"}, "y": {"datum": -0.41, "axis": null}, "y2": {"datum": -0.2}}},
        {"transform": [{"filter": "datum.kind === 'r95'"}], "mark": {"type": "rule", "color": "#111", "strokeWidth": 2.5}, "encoding": {"x": {"field": "from", "type": "quantitative"}, "x2": {"field": "to"}, "y": {"datum": -0.82, "axis": null}}},
        {"transform": [{"filter": "datum.kind === 'r95'"}, {"fold": ["from", "to"], "as": ["end", "pos"]}], "mark": {"type": "rule", "color": "#111", "strokeWidth": 2}, "encoding": {"x": {"field": "pos", "type": "quantitative"}, "y": {"datum": -0.82, "axis": null}, "y2": {"datum": -0.61}}},
        {"transform": [{"filter": "datum.kind === 'line'"}], "mark": {"type": "text", "align": "left", "baseline": "middle", "fontSize": 26, "font": "Liberation Sans", "color": "#111"}, "encoding": {"x": {"datum": -2841}, "y": {"datum": 1.36, "axis": null}, "text": {"field": "sample"}}}
      ]
    }
  ],
  "resolve": {"scale": {"y": "independent"}}
}
